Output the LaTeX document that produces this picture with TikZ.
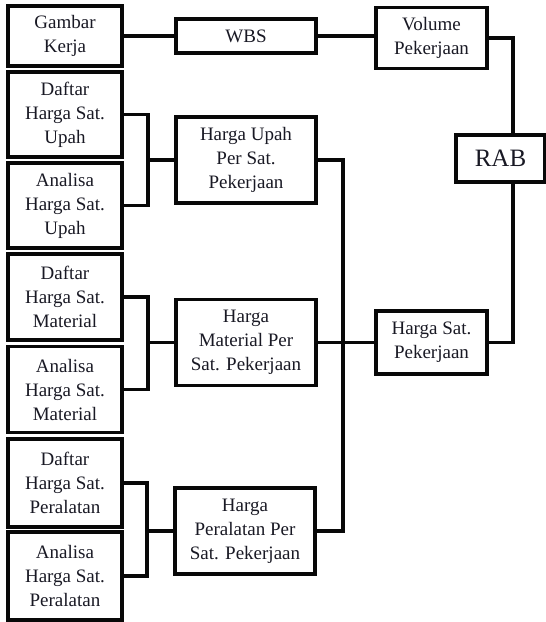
\documentclass[tikz,border=0pt]{standalone}
\usepackage{fontspec}
\setmainfont{LiberationSerif}[Extension=.ttf,UprightFont=*-Regular,BoldFont=*-Bold]
\definecolor{LineClr}{rgb}{0.03,0.03,0.03}
\definecolor{TextClr}{rgb}{0.1,0.1,0.14}

\begin{document}
\begin{tikzpicture}[x=1pt,y=-1pt,
  box/.style={draw=LineClr,line width=3.2pt,inner sep=0pt,align=center,text=TextClr,
    font=\rmfamily\fontsize{19}{24}\selectfont},
  srcbox/.style={box,minimum width=114pt,minimum height=86pt},
  midbox/.style={box,minimum width=140pt,minimum height=86pt},
  link/.style={draw=LineClr,line width=3.2pt}]
\useasboundingbox (0,0) rectangle (546,622);

\node[box,minimum width=114pt,minimum height=60pt] (gk) at (65,36) {Gambar\\Kerja};
\node[box,minimum width=140pt,minimum height=34pt] (wbs) at (246,36) {WBS};
\node[box,minimum width=111pt,minimum height=61pt] (vol) at (431.5,38) {Volume\\Pekerjaan};
\node[box,minimum width=89pt,minimum height=47pt,font=\rmfamily\fontsize{25}{30}\selectfont] (rab) at (500.5,158.5) {RAB};

\node[srcbox,minimum height=85pt] (du) at (65,114.5) {Daftar\\Harga Sat.\\Upah};
\node[srcbox,minimum height=85pt] (au) at (65,205.5) {Analisa\\Harga Sat.\\Upah};
\node[srcbox] (dm) at (65,297) {Daftar\\Harga Sat.\\Material};
\node[srcbox] (am) at (65,389.5) {Analisa\\Harga Sat.\\Material};
\node[srcbox,minimum height=88pt] (dp) at (65,483) {Daftar\\Harga Sat.\\Peralatan};
\node[srcbox,minimum height=88pt] (ap) at (65,576) {Analisa\\Harga Sat.\\Peralatan};

\node[midbox] (hu) at (246,160) {Harga Upah\\Per Sat.\\Pekerjaan};
\node[midbox] (hm) at (246,342.5) {Harga\\Material Per\\Sat. Pekerjaan};
\node[midbox] (hp) at (245,531) {Harga\\Peralatan Per\\Sat. Pekerjaan};
\node[box,minimum width=111pt,minimum height=63pt] (hs) at (431.5,342.5) {Harga Sat.\\Pekerjaan};

\coordinate (ju) at (148,160);
\coordinate (jm) at (148,342.5);
\coordinate (jp) at (147,531);
\coordinate (bus) at (343,342.5);
\coordinate (rj) at (513,158.5);

\draw[link] (gk.east) -- (wbs.west);
\draw[link] (wbs.east) -- (vol.west |- wbs.east);
\draw[link] (vol.east) -| (rab.north -| rj);
\draw[link] (hs.east) -| (rab.south -| rj);

\draw[link] (du.east) -| (ju) |- (au.east);
\draw[link] (ju) -- (hu.west);
\draw[link] (dm.east) -| (jm) |- (am.east);
\draw[link] (jm) -- (hm.west);
\draw[link] (dp.east) -| (jp) |- (ap.east);
\draw[link] (jp) -- (hp.west);

\draw[link] (hu.east) -| (bus) |- (hp.east);
\draw[link] (hm.east) -- (hs.west);

\end{tikzpicture}
\end{document}
